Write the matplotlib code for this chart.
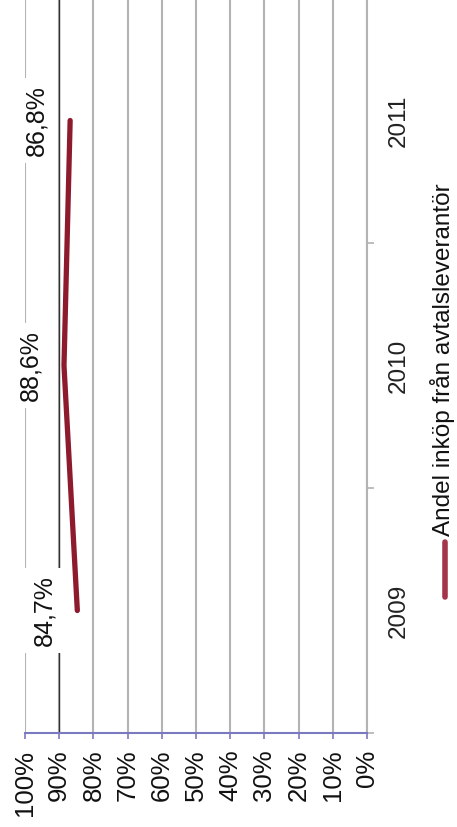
import matplotlib
matplotlib.use("Agg")
import matplotlib.pyplot as plt
from matplotlib.lines import Line2D

plt.rcParams['font.family'] = ['Liberation Sans', 'DejaVu Sans']

# Data
years = ["2009", "2010", "2011"]
share = [84.7, 88.6, 86.8]
share_labels = ["84,7%", "88,6%", "86,8%"]
pct_ticks = [0, 10, 20, 30, 40, 50, 60, 70, 80, 90, 100]
pct_labels = ["0%", "10%", "20%", "30%", "40%", "50%", "60%", "70%", "80%", "90%", "100%"]
series_name = "Andel inköp från avtalsleverantör"

W, H = 457, 827
fig = plt.figure(figsize=(W / 100, H / 100), dpi=100)
fig.patch.set_facecolor("white")

# Axes: value axis runs right-to-left along the bottom, categories run bottom-to-top
ax = fig.add_axes([25 / W, (H - 733) / H, (367 - 25) / W, 735 / H])
ax.set_xlim(100, 0)
ax.set_ylim(-0.5, len(years) - 0.5)

pos = list(range(len(years)))

grid_c = "#b3b3b3"
axis_c = "#7b79bf"
line_c = "#8e1b2d"

for v in pct_ticks:
    ax.axvline(v, color=grid_c, lw=1.5, zorder=1)
ax.axvline(90, color="#303030", lw=1.0, zorder=1.2)

ax.plot(share, pos, color=line_c, lw=3.8, solid_capstyle="round", zorder=3)

for v, p, lab in zip(share, pos, share_labels):
    ax.annotate(lab, xy=(v, p), xytext=(-24, 0), textcoords="offset points",
                rotation=90, ha="center", va="center", fontsize=18, color="#111111",
                bbox=dict(boxstyle="square,pad=0.3", fc="white", ec="none"),
                zorder=4)

# Spines
for s in ["top", "left"]:
    ax.spines[s].set_visible(False)
ax.spines["right"].set_color(grid_c)
ax.spines["right"].set_linewidth(1.5)
ax.spines["bottom"].set_color(axis_c)
ax.spines["bottom"].set_linewidth(1.5)

# Value axis ticks
ax.set_xticks(pct_ticks)
ax.set_xticklabels(pct_labels)
ax.tick_params(axis="x", direction="out", length=4, width=1.2, color=axis_c,
               labelrotation=90, labelsize=18.5, pad=8, labelcolor="#111111")

# Category axis on the right
ax.yaxis.tick_right()
ax.set_yticks(pos)
ax.set_yticklabels(years)
ax.set_yticks([-0.5, 0.5, 1.5, 2.5], minor=True)
ax.tick_params(axis="y", which="major", length=0, pad=15, labelsize=17.5,
               labelrotation=90, labelcolor="#222222")
ax.tick_params(axis="y", which="minor", length=5, width=1.2, color=grid_c)
for t in ax.get_yticklabels():
    t.set_va("center")

# Legend
fig.add_artist(Line2D([445 / W, 445 / W], [1 - 542 / H, 1 - 597 / H],
                      color="#a3354a", lw=4, solid_capstyle="round"))
fig.text(455 / W, 1 - 536 / H, series_name, rotation=90, ha="right", va="bottom",
         fontsize=17.5, color="#111111")

fig.savefig("out.png", dpi=100, facecolor="white")
